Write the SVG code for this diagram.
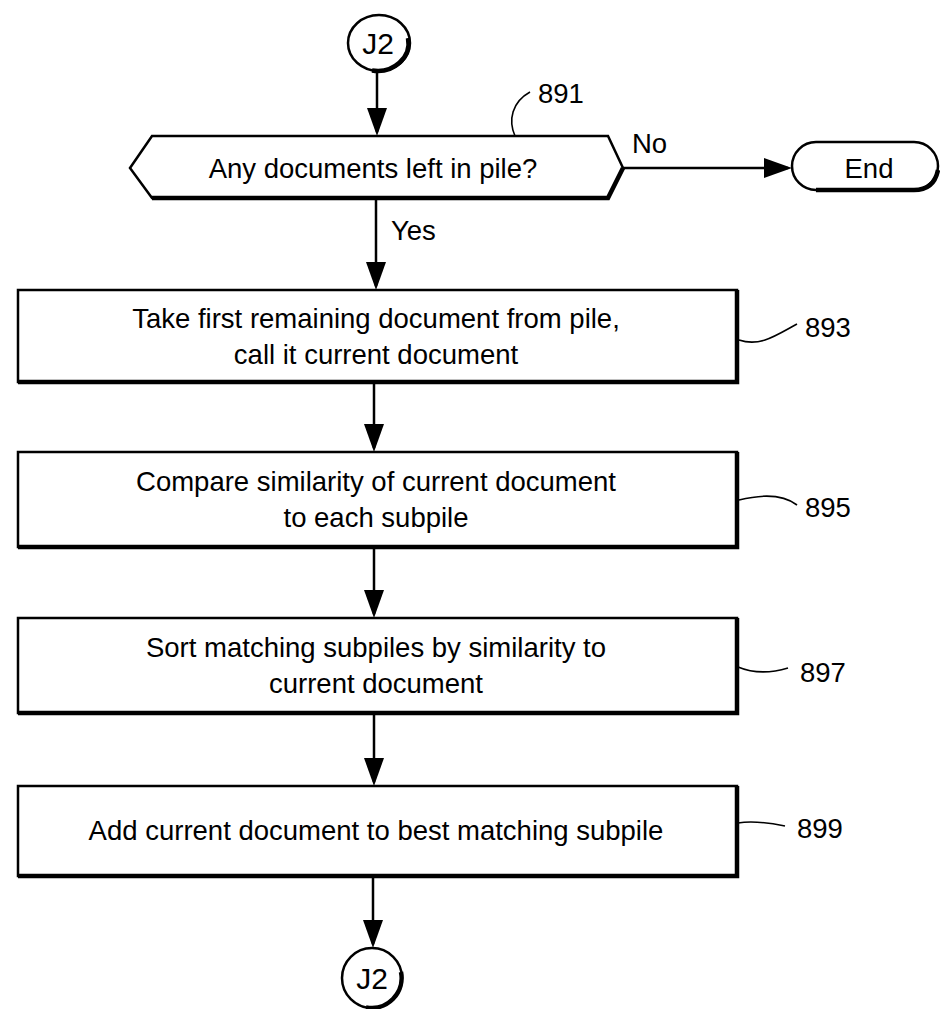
<svg xmlns="http://www.w3.org/2000/svg" width="940" height="1009" viewBox="0 0 940 1009">
<style>
.o{fill:#fff;stroke:#000;stroke-width:2.5}
.s{fill:none;stroke:#000;stroke-width:4.5}
.c{fill:none;stroke:#000;stroke-width:2.5}
.l{fill:none;stroke:#000;stroke-width:1.6}
text{font-family:"Liberation Sans",Arial,sans-serif;font-size:27.5px;fill:#000}
.m{text-anchor:middle}
.j{font-size:30px}
</style>
<defs>
<marker id="ah" markerWidth="28" markerHeight="20" refX="24" refY="10" orient="auto" markerUnits="userSpaceOnUse">
<path d="M0,0 L28,10 L0,20 Z" fill="#000"/>
</marker>
</defs>
<rect width="940" height="1009" fill="#fff"/>
<g id="connectors">
<path class="c" d="M377,71 V132" marker-end="url(#ah)"/>
<path class="c" d="M376,198 V286" marker-end="url(#ah)"/>
<path class="c" d="M374,382 V448" marker-end="url(#ah)"/>
<path class="c" d="M374,547 V614" marker-end="url(#ah)"/>
<path class="c" d="M374,713 V782" marker-end="url(#ah)"/>
<path class="c" d="M373,876 V944" marker-end="url(#ah)"/>
<path class="c" d="M623,168 H788" marker-end="url(#ah)"/>
<text x="391" y="240">Yes</text>
<text x="632" y="153">No</text>
</g>
<g id="J2-top">
<ellipse class="o" cx="379" cy="43" rx="31" ry="28"/>
<path class="s" d="M408,38 A31,28 0 0 1 372,70.5"/>
<text class="m j" x="378" y="54">J2</text>
</g>
<g id="n891">
<polygon class="o" points="130,168 152,136 608,136 623,168 608,198 152,198"/>
<path class="s" d="M623,168 L608,198 H152"/>
<text class="m" x="373" y="178">Any documents left in pile?</text>
<path class="l" d="M515,136 C508,120 512,102 530,92"/>
<text x="538" y="103">891</text>
</g>
<g id="end">
<rect class="o" x="792" y="142" width="146" height="48" rx="24"/>
<path class="s" d="M938,170 Q934,190 914,190 H816"/>
<text class="m" x="869" y="178">End</text>
</g>
<g id="n893">
<rect class="o" x="18" y="290" width="719" height="92"/>
<path class="s" d="M737,290 V382 H18"/>
<text class="m" x="376" y="328">Take first remaining document from pile,</text>
<text class="m" x="376" y="364">call it current document</text>
<path class="l" d="M739,340 C760,347 775,336 797,324"/>
<text x="805" y="337">893</text>
</g>
<g id="n895">
<rect class="o" x="18" y="452" width="719" height="95"/>
<path class="s" d="M737,452 V547 H18"/>
<text class="m" x="376" y="491">Compare similarity of current document</text>
<text class="m" x="376" y="527">to each subpile</text>
<path class="l" d="M739,500 C755,496 780,492 797,505"/>
<text x="805" y="517">895</text>
</g>
<g id="n897">
<rect class="o" x="18" y="618" width="719" height="95"/>
<path class="s" d="M737,618 V713 H18"/>
<text class="m" x="376" y="657">Sort matching subpiles by similarity to</text>
<text class="m" x="376" y="693">current document</text>
<path class="l" d="M738,667 C750,672 768,674 788,668"/>
<text x="800" y="682">897</text>
</g>
<g id="n899">
<rect class="o" x="18" y="786" width="719" height="90"/>
<path class="s" d="M737,786 V876 H18"/>
<text class="m" x="376" y="840">Add current document to best matching subpile</text>
<path class="l" d="M738,823 C750,821 765,822 785,826"/>
<text x="797" y="838">899</text>
</g>
<g id="J2-bottom">
<circle class="o" cx="372" cy="978" r="30"/>
<path class="s" d="M401,972 A30,30 0 0 1 366,1007.4"/>
<text class="m j" x="372" y="989">J2</text>
</g>
</svg>
